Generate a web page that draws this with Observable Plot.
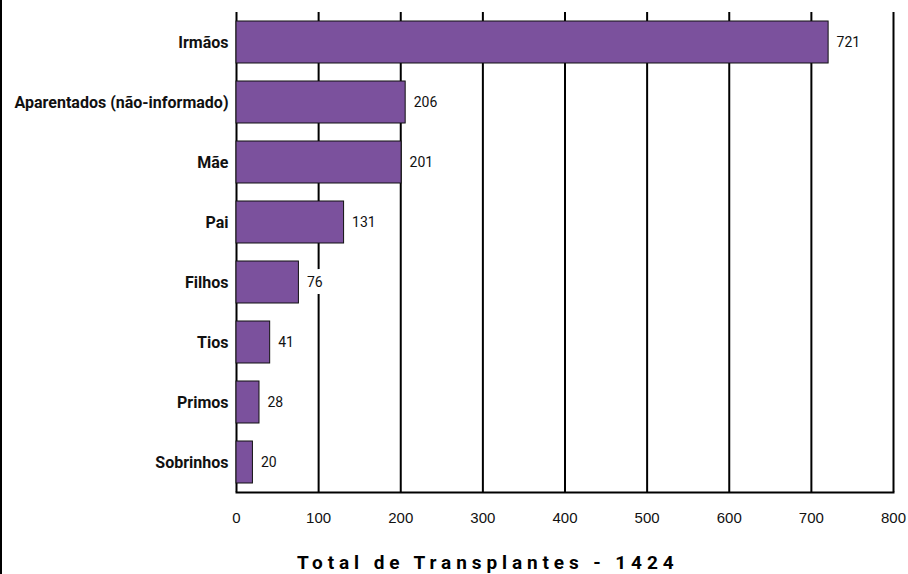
<!DOCTYPE html>
<html>
<head>
<meta charset="utf-8">
<script src="https://cdn.jsdelivr.net/npm/d3@7"></script>
<script src="https://cdn.jsdelivr.net/npm/@observablehq/plot@0.6"></script>
<style>
  html, body { margin: 0; padding: 0; background: #fff; }
  #wrap { position: relative; width: 908px; height: 574px; }
  #chart { position: absolute; left: 0; top: 0; }
  #edge { position: absolute; left: 0; top: 0; width: 2px; height: 574px; background: #000; z-index: 5; }
  #title { position: absolute; left: 297px; top: 551px; font-family: Roboto, sans-serif; font-weight: bold; font-size: 19px; letter-spacing: 4.9px; color: #000; white-space: nowrap; }
  #chart svg g[aria-label="y-axis tick label"] { font-family: Roboto, sans-serif; font-weight: bold; font-size: 16px; }
  #chart svg g[aria-label="x-axis tick label"] { font-family: "Liberation Sans", Arial, sans-serif; font-size: 15px; }
  #chart svg g[aria-label="text"] { font-family: Roboto, sans-serif; font-size: 14px; }
</style>
</head>
<body>
<div id="wrap">
  <div id="chart"></div>
  <div id="edge"></div>
  <div id="title">Total de Transplantes - 1424</div>
</div>
<script>
const categories = ["Irmãos", "Aparentados (não-informado)", "Mãe", "Pai", "Filhos", "Tios", "Primos", "Sobrinhos"];
const values = [721, 206, 201, 131, 76, 41, 28, 20];
const xTicks = [0, 100, 200, 300, 400, 500, 600, 700, 800];

const data = categories.map((c, i) => ({category: c, value: values[i]}));

const chart = Plot.plot({
  width: 908,
  height: 540,
  marginLeft: 236,
  marginRight: 15,
  marginTop: 12,
  marginBottom: 48,
  style: {background: "transparent"},
  x: {domain: [0, 800], ticks: xTicks},
  y: {domain: categories, paddingInner: 0.3, paddingOuter: 0.15},
  marks: [
    Plot.ruleX(xTicks, {stroke: "#000", strokeWidth: 2}),
    Plot.frame({anchor: "bottom", stroke: "#000", strokeWidth: 2}),
    Plot.barX(data, {y: "category", x: "value", fill: "#7B519D", stroke: "#111", strokeWidth: 1}),
    Plot.text(data, {y: "category", x: "value", text: d => String(d.value), textAnchor: "start", dx: 8, fill: "#111", stroke: "#fff", strokeWidth: 14, paintOrder: "stroke"}),
    Plot.axisY({tickSize: 0, tickPadding: 8, label: null, fill: "#111"}),
    Plot.axisX({ticks: xTicks, tickSize: 0, tickPadding: 20, label: null, fill: "#111"})
  ]
});
document.getElementById("chart").appendChild(chart);
</script>
</body>
</html>
